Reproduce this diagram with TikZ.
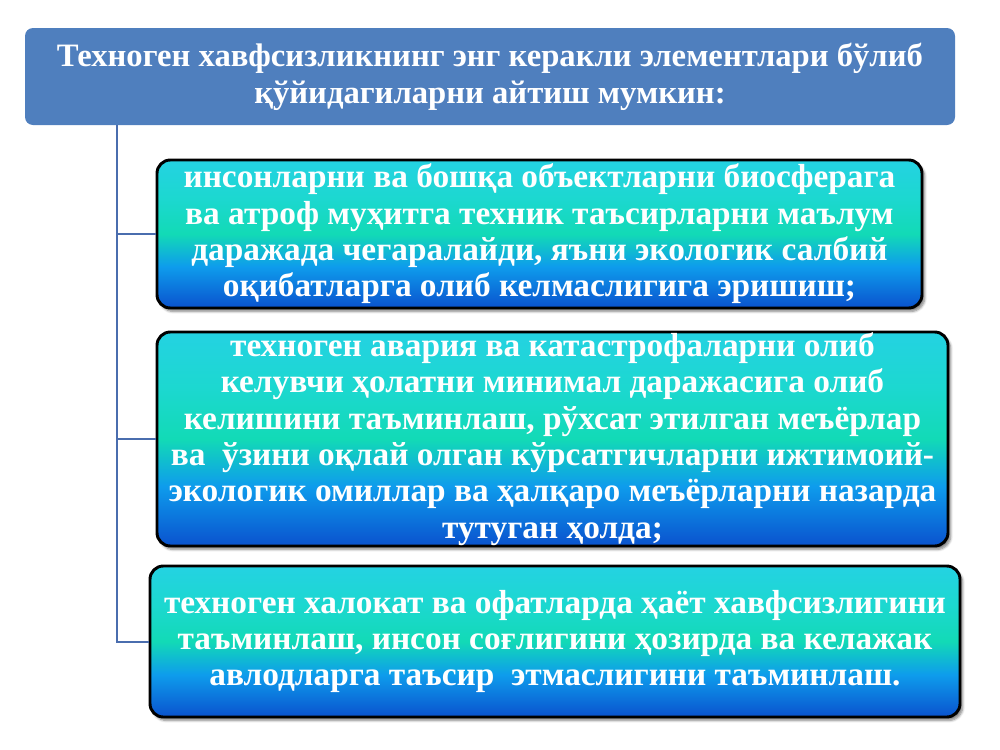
\documentclass[tikz,border=0pt]{standalone}
\usepackage{fontspec}
\setmainfont{Liberation Serif}
\usetikzlibrary{shadows.blur}
\definecolor{headblue}{HTML}{4F7FBE}
\definecolor{linkblue}{HTML}{4A6DAE}
\definecolor{shadeA}{HTML}{0A52CE}
\definecolor{shadeB}{HTML}{0E9CEC}
\definecolor{shadeC}{HTML}{12DAB6}
\definecolor{shadeD}{HTML}{1CD8D0}
\definecolor{shadeE}{HTML}{24D2E2}
\pgfdeclareverticalshading{boxshade}{100bp}{color(0bp)=(shadeA); color(25bp)=(shadeA); color(39bp)=(shadeB); color(50bp)=(shadeC); color(62bp)=(shadeD); color(75bp)=(shadeE); color(100bp)=(shadeE)}
\tikzset{
  head/.style={fill=headblue,rounded corners=6pt,text=white,font=\bfseries\fontsize{24.5}{27.5}\selectfont,align=center,inner sep=0pt},
  item/.style={draw=black,line width=2.2pt,rounded corners=10pt,shading=boxshade,text=white,font=\bfseries\fontsize{25}{27.3}\selectfont,align=center,inner sep=0pt,blur shadow={shadow xshift=2pt,shadow yshift=-2.5pt,shadow blur steps=6,shadow opacity=50}},
  link/.style={draw=linkblue,line width=1.5pt}
}
\begin{document}
\begin{tikzpicture}[x=0.75pt,y=-0.75pt]
\useasboundingbox (0,0) rectangle (1000,750);
\node[head,minimum width=697.5pt,minimum height=72.75pt] (head) at (490,76.5) {Техноген хавфсизликнинг энг керакли элементлари бўлиб\\ қўйидагиларни айтиш мумкин:};
\node[item,minimum width=573.75pt,minimum height=111pt] (box1) at (539.5,234) {инсонларни ва бошқа объектларни биосферага\\ ва атроф муҳитга техник таъсирларни маълум\\ даражада чегаралайди, яъни экологик салбий\\ оқибатларга олиб келмаслигига эришиш;};
\node[item,minimum width=593.25pt,minimum height=160.5pt] (box2) at (552.5,439) {техноген авария ва катастрофаларни олиб\\ келувчи ҳолатни минимал даражасига олиб\\ келишини таъминлаш, рўхсат этилган меъёрлар\\ ва\ \ ўзини оқлай олган кўрсатгичларни ижтимоий-\\ экологик омиллар ва ҳалқаро меъёрларни назарда\\ тутуган ҳолда;};
\node[item,minimum width=607.5pt,minimum height=113.25pt] (box3) at (555,641.5) {техноген халокат ва офатларда ҳаёт хавфсизлигини\\ таъминлаш, инсон соғлигини ҳозирда ва келажак\\ авлодларга таъсир\ \ этмаслигини таъминлаш.};
\coordinate (trunk) at ([xshift=69pt]head.south west);
\draw[link] (trunk) |- (box3.west);
\draw[link] (trunk |- box1.west) -- (box1.west);
\draw[link] (trunk |- box2.west) -- (box2.west);
\end{tikzpicture}
\end{document}
